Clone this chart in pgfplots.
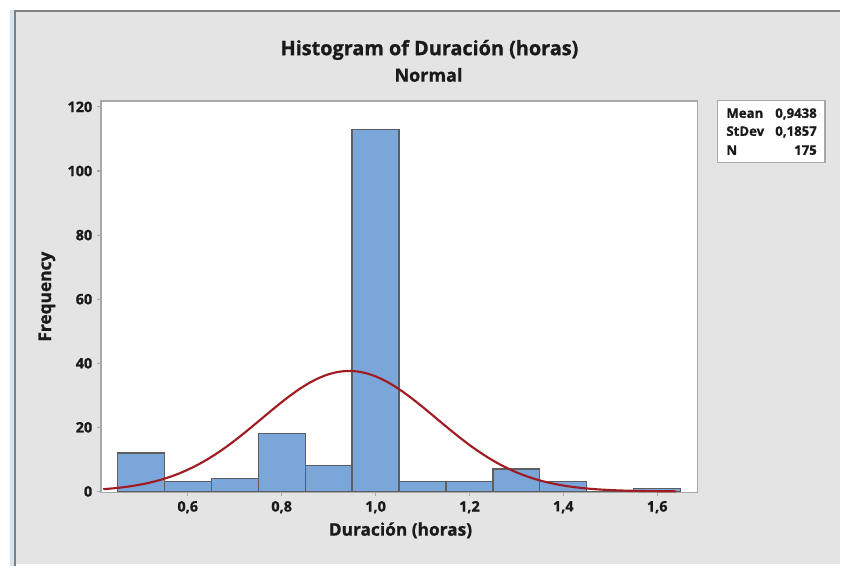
\documentclass[border=0pt]{standalone}
\usepackage{pgfplots}
\pgfplotsset{compat=1.18}
\usepackage{fontspec}
\setmainfont{Open Sans}[FakeBold=1.0]
\definecolor{bg}{HTML}{E4E4E4}
\definecolor{strip}{HTML}{D6E4F2}
\definecolor{barfill}{HTML}{7BA6DA}
\definecolor{baredge}{HTML}{5E5E5E}
\definecolor{curve}{HTML}{A01C22}
\definecolor{axgray}{HTML}{A8A8A8}
\definecolor{txt}{HTML}{1A1A1A}
\begin{document}
\begin{tikzpicture}[x=0.75pt,y=-0.75pt]
% background (pixel coordinates from top-left)
\fill[white] (0,0) rectangle (841,567);
\fill[strip] (10,10) rectangle (14,567);
\fill[bg] (15,11) rectangle (841,565);
\draw[gray,line width=1.5pt] (15.5,567) -- (15.5,11.5) -- (841,11.5);
\begin{axis}[
  at={(75.75pt,-369.75pt)}, anchor=south west,
  scale only axis, width=447.75pt, height=294pt,
  xmin=0.4149, xmax=1.6851, ymin=-0.31, ymax=121.87,
  axis background/.style={fill=white},
  axis line style={axgray, line width=1pt},
  xtick={0.6,0.8,1.0,1.2,1.4,1.6},
  ytick={0,20,40,60,80,100,120},
  tick align=outside, major tick length=3pt,
  tick style={axgray, line width=0.8pt},
  xticklabel style={/pgf/number format/.cd, use comma, fixed, fixed zerofill, precision=1},
  ticklabel style={font=\bfseries\fontsize{10.8}{12}\selectfont, text=txt},
  /pgf/number format/assume math mode=true,
  xtick pos=bottom, ytick pos=left,
  clip=true,
]
\addplot[ybar interval, fill=barfill, draw=baredge, line width=0.9pt] coordinates {
(0.45,12) (0.55,3) (0.65,4) (0.75,18) (0.85,8) (0.95,113) (1.05,3) (1.15,3) (1.25,7) (1.35,3) (1.45,0) (1.55,1) (1.65,1)
};
\addplot[curve, line width=1.6pt, smooth] coordinates {
(0.42,0.704) (0.44,0.948) (0.46,1.263) (0.48,1.662) (0.50,2.162) (0.52,2.780) (0.54,3.534) (0.56,4.441) (0.58,5.516)
(0.60,6.773) (0.62,8.220) (0.64,9.860) (0.66,11.692) (0.68,13.704) (0.70,15.878) (0.72,18.184) (0.74,20.584)
(0.76,23.035) (0.78,25.477) (0.80,27.852) (0.82,30.100) (0.84,32.154) (0.86,33.952) (0.88,35.437) (0.90,36.560)
(0.92,37.284) (0.94,37.583) (0.96,37.448) (0.98,36.883) (1.00,35.908) (1.02,34.555) (1.04,32.870) (1.06,30.906)
(1.08,28.724) (1.10,26.389) (1.12,23.964) (1.14,21.511) (1.16,19.087) (1.18,16.741) (1.20,14.513) (1.22,12.436)
(1.24,10.534) (1.26,8.821) (1.28,7.301) (1.30,5.972) (1.32,4.829) (1.34,3.861) (1.36,3.050) (1.38,2.382)
(1.40,1.838) (1.42,1.403) (1.44,1.058) (1.46,0.789) (1.48,0.582) (1.50,0.424) (1.52,0.305) (1.54,0.217)
(1.56,0.153) (1.58,0.106) (1.60,0.073) (1.62,0.050) (1.64,0.033)
};
\end{axis}
% titles and labels
\node[text=txt,font=\bfseries\fontsize{14.9}{17}\selectfont] at (430,50) {Histogram of Duración (horas)};
\node[text=txt,font=\bfseries\fontsize{13.5}{15}\selectfont] at (429,75) {Normal};
\node[text=txt,font=\bfseries\fontsize{13}{14}\selectfont,rotate=90] at (47,297) {Frequency};
\node[text=txt,font=\bfseries\fontsize{13}{14}\selectfont] at (401,531) {Duración (horas)};
% stats box
\draw[fill=white, draw=axgray, line width=0.8pt] (718,101) rectangle (826,163);
\begin{scope}[every node/.style={text=txt,inner sep=0pt,font=\bfseries\fontsize{9.9}{11}\selectfont}]
\node[anchor=base west] at (727,118) {Mean};
\node[anchor=base east] at (818,118) {0,9438};
\node[anchor=base west] at (727,136) {StDev};
\node[anchor=base east] at (818,136) {0,1857};
\node[anchor=base west] at (727,155) {N};
\node[anchor=base east] at (818,155) {175};
\end{scope}
\end{tikzpicture}
\end{document}
